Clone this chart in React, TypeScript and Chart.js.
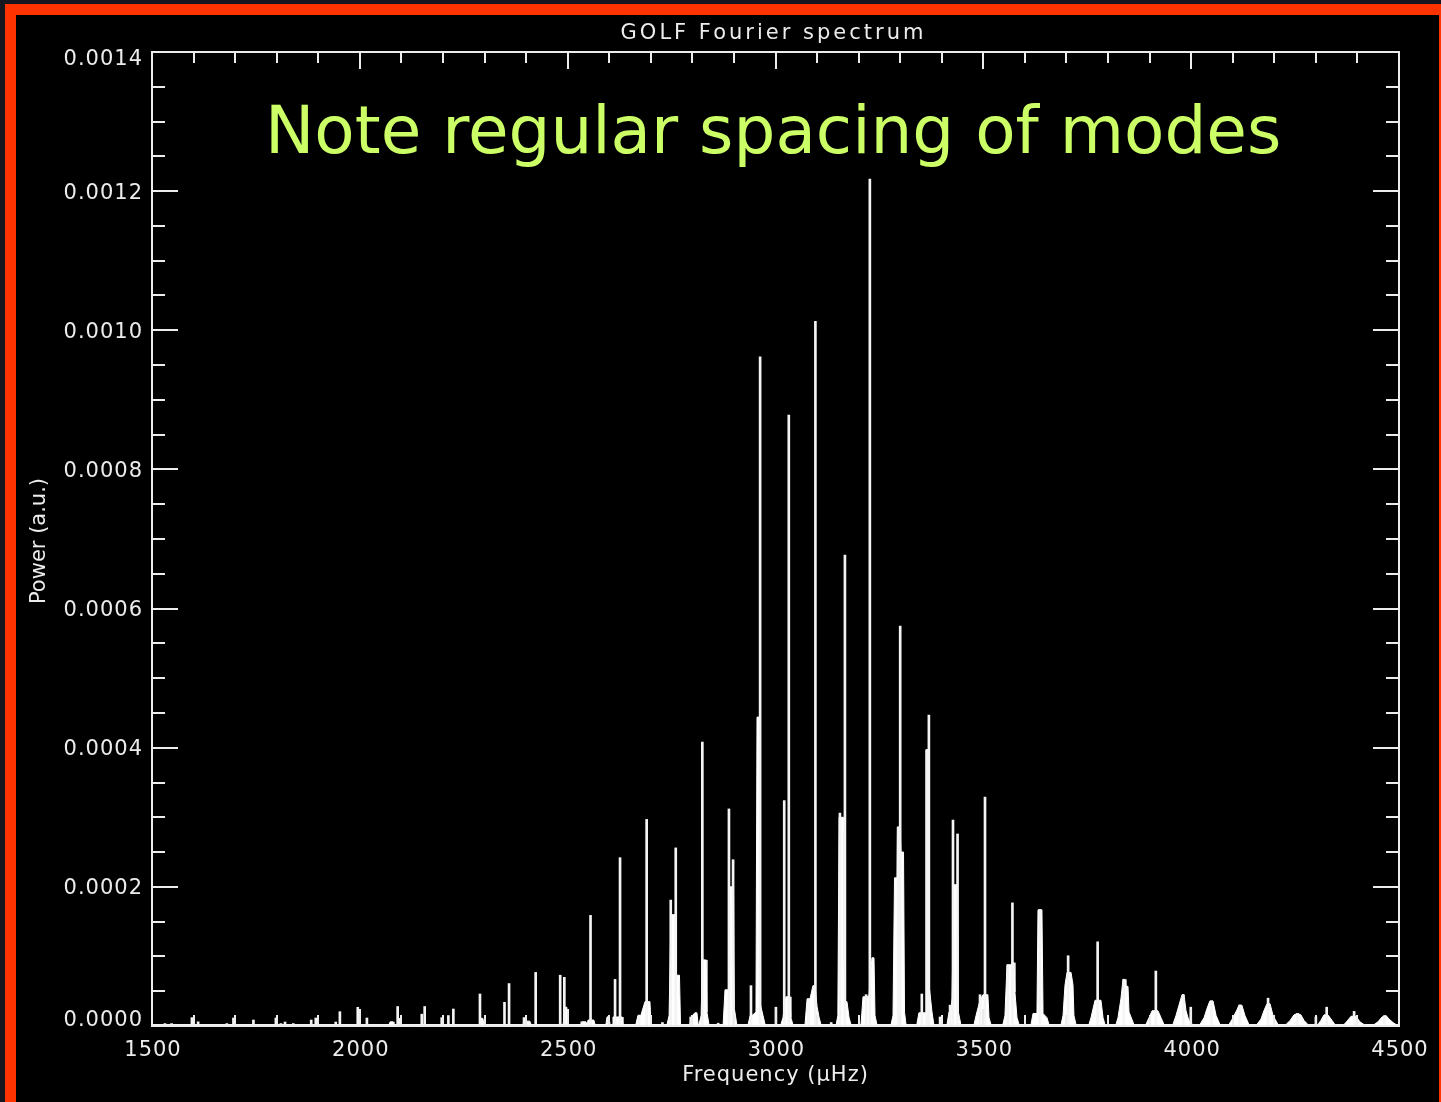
import React, { useEffect, useRef } from "react";
import { Chart, registerables } from "chart.js";

Chart.register(...registerables);

const TITLE = "GOLF Fourier spectrum";
const X_TITLE = "Frequency (\u00b5Hz)";
const Y_TITLE = "Power (a.u.)";
const NOTE = "Note regular spacing of modes";

const X_MIN = 1500;
const X_MAX = 4500;
const X_MAJOR = 500;
const X_MINOR = 100;
const Y_MIN = 0;
const Y_MAX = 0.0014;
const Y_MAJOR = 0.0002;
const Y_MINOR = 0.00005;

// Narrow mode spikes: frequency (µHz) and power (a.u.)
const spikeFreq = [
  1531, 1547, 1596, 1611, 1680, 1696, 1744, 1798, 1810, 1820,
  1840, 1883, 1894, 1942, 1952, 1995, 2017, 2091, 2097, 2149,
  2156, 2197, 2213, 2225, 2289, 2348, 2359, 2395, 2423, 2482,
  2492, 2534, 2555, 2598, 2614, 2626, 2672, 2690, 2728, 2748,
  2760, 2796, 2824, 2862, 2888, 2898, 2941, 2963, 3001, 3021,
  3032, 3079, 3096, 3134, 3155, 3167, 3218, 3227, 3295, 3300,
  3352, 3364, 3369, 3396, 3420, 3427, 3438, 3492, 3504, 3559,
  3570, 3636, 3704, 3775, 3838, 3915, 3981, 3999, 4049, 4117,
  4185, 4255, 4300, 4326, 4392, 4465,
];
const spikePower = [
  3.5e-6, 3.5e-6, 1.2e-5, 6e-6, 3.5e-6, 1.15e-5, 8.6e-6, 1.15e-5, 3.5e-6, 5.7e-6,
  3.5e-6, 8.6e-6, 1.15e-5, 5.7e-6, 2.06e-5, 2.69e-5, 1.15e-5, 2.8e-5, 1.1e-5, 1.7e-5,
  2.8e-5, 1.2e-5, 1.5e-5, 2.44e-5, 4.6e-5, 3.4e-5, 6.1e-5, 1.2e-5, 7.7e-5, 7.3e-5,
  7.0e-5, 6e-6, 1.59e-4, 1.3e-5, 6.7e-5, 2.42e-4, 1.57e-5, 2.97e-4, 5e-6, 1.81e-4,
  2.56e-4, 1.3e-5, 4.08e-4, 4e-6, 3.12e-4, 2.39e-4, 5.8e-5, 9.62e-4, 2.7e-5, 3.24e-4,
  8.78e-4, 3.9e-5, 1.013e-3, 5e-6, 3.06e-4, 6.77e-4, 4.5e-5, 1.2175e-3, 2.86e-4, 5.75e-4,
  4.6e-5, 3.97e-4, 4.47e-4, 1.3e-5, 3e-5, 2.96e-4, 2.76e-4, 4.5e-5, 3.29e-4, 8.8e-5,
  1.77e-4, 1.67e-4, 1.01e-4, 1.21e-4, 6.7e-5, 7.9e-5, 4.5e-5, 2.7e-5, 3.6e-5, 3.0e-5,
  4.0e-5, 1.8e-5, 1.3e-5, 2.7e-5, 2.1e-5, 1.5e-5,
];

// Broad mode profiles and background: [frequency, power]
const B = 2e-6;
const profile: [number, number][] = [
  [1500, B],
  [2070, B], [2073, 6e-6], [2080, 6e-6], [2082, B],
  [2287, B], [2289, 1.1e-5], [2296, 1.1e-5], [2299, B],
  [2393, B], [2395, 1.2e-5], [2400, 7e-6], [2409, 7e-6], [2412, B],
  [2489, B], [2494, 2.7e-5], [2498, 2.7e-5], [2501, B],
  [2532, B], [2534.5, 6e-6], [2544, 6e-6], [2546.5, B],
  [2547, B], [2549, 8.6e-6], [2563, 8.6e-6], [2566, B],
  [2592, B], [2594.6, 1.3e-5], [2599.4, 1.3e-5], [2602, B],
  [2606.7, B], [2609, 1.3e-5], [2631, 1.3e-5], [2633, B],
  [2664, B], [2669, 1.5e-5], [2676, 1.5e-5], [2686, 3.5e-5], [2698, 3.5e-5], [2700.5, B],
  [2739, B], [2744, 1.5e-5], [2748.6, 1.6e-4], [2758.2, 1.6e-4], [2760.6, 7.3e-5], [2769, 7.3e-5], [2771.5, B],
  [2794, B], [2797, 1.3e-5], [2806, 1.9e-5], [2811, 1.9e-5], [2814, B],
  [2816, B], [2821, 1.5e-5], [2824.4, 9.5e-5], [2833, 9.5e-5], [2835, 2e-5], [2840, B],
  [2874, B], [2878.5, 5.2e-5], [2886, 5.2e-5], [2888, 2.0e-4], [2899, 2.0e-4], [2901, 2.5e-5], [2907, B],
  [2934, B], [2939, 1.5e-5], [2943.5, 1.5e-5], [2953, 2e-5], [2955.5, 4.44e-4], [2961.5, 4.44e-4], [2964, 3e-5], [2970, 1.5e-5], [2975, B],
  [3013, B], [3018, 1.2e-5], [3025, 4.2e-5], [3035, 4.2e-5], [3037, 1.2e-5], [3042, B],
  [3071, B], [3076, 3.9e-5], [3083, 3.9e-5], [3090, 5.8e-5], [3095, 5.8e-5], [3100, 2.8e-5], [3105, 1.2e-5], [3109.5, B],
  [3146, B], [3150, 1.5e-5], [3153, 3.0e-4], [3163.6, 3.0e-4], [3165, 3.5e-5], [3172, 3.5e-5], [3177, 1.2e-5], [3181.6, B],
  [3205.7, B], [3210.5, 4.2e-5], [3222.6, 4.2e-5], [3225, 4.5e-5], [3232, 9.8e-5], [3237, 9.8e-5], [3239.4, 1.5e-5], [3244, B],
  [3278, B], [3282.7, 1.5e-5], [3286.3, 2.13e-4], [3292.3, 2.13e-4], [3293.5, 2.86e-4], [3299.5, 2.86e-4], [3302, 2.5e-4], [3308, 2.5e-4], [3310.4, 2e-5], [3314, B],
  [3340, B], [3345, 1.9e-5], [3359.7, 1.9e-5], [3362, 3.97e-4], [3367, 3.97e-4], [3369.3, 6e-5], [3376.5, 2e-5], [3381, B],
  [3412.6, B], [3417.4, 2e-5], [3422, 2e-5], [3424.6, 4e-5], [3429.5, 2.03e-4], [3438, 2.03e-4], [3440, 2e-5], [3446, B],
  [3477.6, B], [3482.4, 1.5e-5], [3492, 3.7e-5], [3499, 4.5e-5], [3511, 4.5e-5], [3513.7, 1.2e-5], [3518.5, B],
  [3547, B], [3552, 1.5e-5], [3557, 8.8e-5], [3566.6, 8.8e-5], [3569, 9.1e-5], [3573.8, 9.1e-5], [3576, 4.9e-5], [3581, 1.2e-5], [3586, B],
  [3614.7, B], [3619.5, 1.8e-5], [3629, 1.8e-5], [3631.5, 1.67e-4], [3641, 1.67e-4], [3643.6, 1.8e-5], [3653, 1.2e-5], [3658, B],
  [3687, B], [3691.7, 1.5e-5], [3696.5, 5.9e-5], [3701.3, 7.7e-5], [3711, 7.7e-5], [3715.7, 5.9e-5], [3718, 1.5e-5], [3723, B],
  [3754, B], [3759, 1.2e-5], [3768.7, 3.7e-5], [3783, 3.7e-5], [3788, 1.2e-5], [3792.7, B],
  [3819, B], [3824, 1.2e-5], [3831, 3.9e-5], [3836, 6.7e-5], [3841, 6.7e-5], [3843, 5.7e-5], [3848, 5.7e-5], [3850.5, 2e-5], [3862.5, B],
  [3891, B], [3898.6, 1.2e-5], [3906, 2.2e-5], [3920, 2.2e-5], [3927.5, 1.2e-5], [3934.7, B],
  [3956, B], [3963.5, 1.5e-5], [3970.7, 3e-5], [3978, 4.5e-5], [3982.8, 4.5e-5], [3987.6, 2.2e-5], [3992.4, 1.2e-5], [3997, 5e-6], [4004.4, B],
  [4021, B], [4031, 1.2e-5], [4038, 2.5e-5], [4045, 3.6e-5], [4052.6, 3.6e-5], [4060, 1.5e-5], [4069.4, B],
  [4091, B], [4100.7, 1.2e-5], [4110, 2.3e-5], [4115, 3e-5], [4122, 3e-5], [4129.5, 1.5e-5], [4139, B],
  [4158, B], [4168, 1e-5], [4175, 2.2e-5], [4182.5, 3.2e-5], [4189.7, 3.2e-5], [4197, 1.5e-5], [4209, B],
  [4228, B], [4238, 8e-6], [4247.4, 1.6e-5], [4257, 1.8e-5], [4264, 1.6e-5], [4271.5, 8e-6], [4281, B],
  [4305, B], [4312, 8e-6], [4319.6, 1.6e-5], [4329, 1.6e-5], [4339, 8e-6], [4346, B],
  [4367.7, B], [4375, 7e-6], [4384.6, 1.4e-5], [4396.6, 1.4e-5], [4406, 6e-6], [4416, B],
  [4440, B], [4449.5, 6e-6], [4459, 1.3e-5], [4469, 1.5e-5], [4476, 1e-5], [4485.6, 5e-6], [4493, B],
  [4500, B],
];

const W = 1441;
const H = 1102;
const FONT = '"DejaVu Sans", sans-serif';
const AXIS_COLOR = "#ececec";

const idlFrame = {
  id: "idlFrame",
  afterDraw(chart: any) {
    const { ctx, chartArea: a, scales } = chart;
    const xs = scales.x;
    const ys = scales.y;
    ctx.save();
    ctx.strokeStyle = AXIS_COLOR;
    ctx.lineWidth = 2;
    ctx.strokeRect(a.left, a.top, a.right - a.left, a.bottom - a.top);

    // y ticks (both sides, inward)
    const nY = Math.round((Y_MAX - Y_MIN) / Y_MINOR);
    const perMajorY = Math.round(Y_MAJOR / Y_MINOR);
    ctx.beginPath();
    for (let i = 0; i <= nY; i++) {
      const v = Y_MIN + i * Y_MINOR;
      const py = Math.round(ys.getPixelForValue(v));
      const len = i % perMajorY === 0 ? 26 : 13;
      ctx.moveTo(a.left, py);
      ctx.lineTo(a.left + len, py);
      ctx.moveTo(a.right, py);
      ctx.lineTo(a.right - len, py);
    }
    // x ticks (top and bottom, inward)
    const nX = Math.round((X_MAX - X_MIN) / X_MINOR);
    const perMajorX = Math.round(X_MAJOR / X_MINOR);
    for (let i = 0; i <= nX; i++) {
      const v = X_MIN + i * X_MINOR;
      const px = Math.round(xs.getPixelForValue(v));
      const len = i % perMajorX === 0 ? 17 : 11;
      ctx.moveTo(px, a.top);
      ctx.lineTo(px, a.top + len);
      ctx.moveTo(px, a.bottom);
      ctx.lineTo(px, a.bottom - len);
    }
    ctx.stroke();

    // tick labels
    ctx.fillStyle = AXIS_COLOR;
    ctx.font = `21px ${FONT}`;
    (ctx as any).letterSpacing = "1px";
    ctx.textAlign = "right";
    ctx.textBaseline = "middle";
    const nYMaj = Math.round((Y_MAX - Y_MIN) / Y_MAJOR);
    for (let i = 0; i <= nYMaj; i++) {
      const v = Y_MIN + i * Y_MAJOR;
      const py = ys.getPixelForValue(v);
      const ly = Math.min(Math.max(py + 2, a.top + 8), a.bottom - 5);
      ctx.fillText(v.toFixed(4), a.left - 9, ly);
    }
    ctx.textAlign = "center";
    const nXMaj = Math.round((X_MAX - X_MIN) / X_MAJOR);
    for (let i = 0; i <= nXMaj; i++) {
      const v = X_MIN + i * X_MAJOR;
      const px = xs.getPixelForValue(v);
      ctx.fillText(String(v), px + 1, a.bottom + 25);
    }

    // titles
    const cx = (a.left + a.right) / 2;
    (ctx as any).letterSpacing = "3px";
    ctx.fillText(TITLE, cx - 2, 34);
    (ctx as any).letterSpacing = "1px";
    ctx.fillText(X_TITLE, cx, a.bottom + 50);
    (ctx as any).letterSpacing = "0px";
    ctx.save();
    ctx.translate(40, 541);
    ctx.rotate(-Math.PI / 2);
    ctx.fillText(Y_TITLE, 0, 0);
    ctx.restore();

    // annotation
    ctx.fillStyle = "#ccff66";
    ctx.font = `66px ${FONT}`;
    ctx.textAlign = "left";
    ctx.textBaseline = "alphabetic";
    ctx.fillText(NOTE, 265, 153);
    ctx.restore();
  },
};

export default function App() {
  const ref = useRef<HTMLCanvasElement | null>(null);

  useEffect(() => {
    if (!ref.current) return;
    const spikes = spikeFreq.map((f, i) => ({ x: f, y: spikePower[i] }));
    const prof = profile.map(([f, p]) => ({ x: f, y: p }));
    const chart = new Chart(ref.current, {
      type: "bar",
      data: {
        datasets: [
          {
            type: "line",
            data: prof,
            borderColor: "#ffffff",
            borderWidth: 1,
            backgroundColor: "#ffffff",
            fill: "origin",
            pointRadius: 0,
            tension: 0,
            order: 2,
          } as any,
          {
            type: "bar",
            data: spikes,
            backgroundColor: "#f4f4f4",
            borderWidth: 0,
            barThickness: 2,
            order: 1,
          } as any,
        ],
      },
      options: {
        animation: false,
        responsive: false,
        devicePixelRatio: 1,
        layout: { padding: { top: 52, right: 42, left: 0, bottom: 0 } },
        plugins: {
          legend: { display: false },
          tooltip: { enabled: false },
          title: { display: false },
        },
        scales: {
          x: {
            type: "linear",
            min: X_MIN,
            max: X_MAX,
            offset: false,
            grid: { display: false },
            border: { display: false },
            ticks: { display: false, stepSize: X_MAJOR },
            afterFit: (s: any) => {
              s.height = 76;
            },
          },
          y: {
            type: "linear",
            min: Y_MIN,
            max: Y_MAX,
            grid: { display: false },
            border: { display: false },
            ticks: { display: false, stepSize: Y_MAJOR },
            afterFit: (s: any) => {
              s.width = 152;
            },
          },
        },
      } as any,
      plugins: [idlFrame],
    });
    return () => chart.destroy();
  }, []);

  return (
    <div style={{ position: "absolute", left: 0, top: 0, width: W, height: H, background: "#16161e", overflow: "hidden" }}>
      <div style={{ position: "absolute", left: 5, top: 4, width: W - 5, height: H - 4, background: "#ff3300" }} />
      <div style={{ position: "absolute", left: 16, top: 15, width: 1439 - 16, height: H - 15, background: "#000000" }} />
      <canvas ref={ref} width={W} height={H} style={{ position: "absolute", left: 0, top: 0, width: W, height: H }} />
    </div>
  );
}
